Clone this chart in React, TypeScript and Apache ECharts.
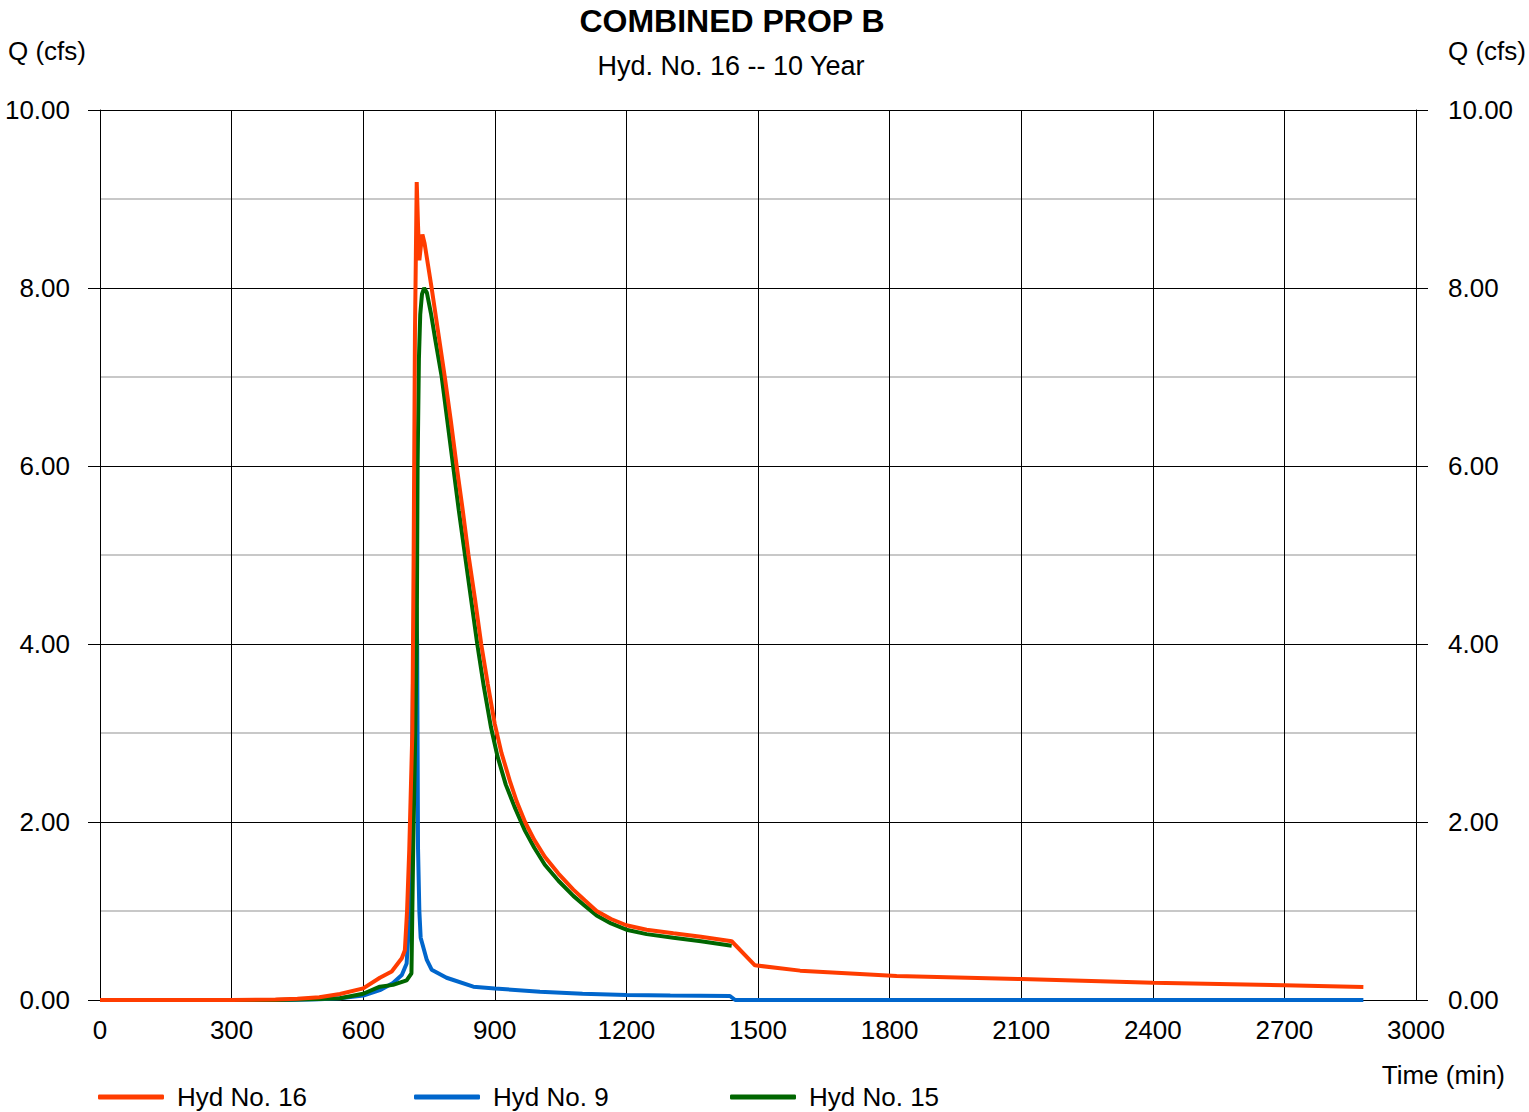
import React, { useEffect, useRef } from "react";
import * as echarts from "echarts";

const xTicks = [0, 300, 600, 900, 1200, 1500, 1800, 2100, 2400, 2700, 3000];

const hyd16Time = [0, 300, 400, 450, 500, 547, 600, 638, 665, 688, 695, 700, 705, 712, 715, 718, 722, 725, 728, 731, 735, 740, 748, 756, 771, 786, 800, 813, 827, 840, 855, 869, 884, 900, 915, 935, 950, 969, 990, 1014, 1045, 1079, 1105, 1132, 1165, 1200, 1246, 1307, 1370, 1440, 1493, 1596, 1816, 2100, 2400, 2700, 2880];
const hyd16Flow = [0, 0, 0.005, 0.015, 0.03, 0.067, 0.13, 0.25, 0.32, 0.47, 0.56, 1.0, 1.69, 3.0, 5.0, 7.5, 9.19, 8.7, 8.31, 8.45, 8.6, 8.5, 8.25, 8.0, 7.5, 7.0, 6.5, 6.0, 5.5, 5.0, 4.5, 4.0, 3.55, 3.1, 2.78, 2.45, 2.23, 2.0, 1.8, 1.61, 1.42, 1.24, 1.12, 1.0, 0.91, 0.84, 0.79, 0.75, 0.71, 0.66, 0.39, 0.33, 0.27, 0.235, 0.195, 0.165, 0.145];

const hyd9Time = [0, 400, 450, 500, 547, 600, 638, 668, 688, 699, 705, 710, 714, 718, 721, 723, 725, 728, 731, 745, 756, 790, 851, 900, 1003, 1100, 1200, 1300, 1436, 1448, 2880];
const hyd9Flow = [0, 0, 0.003, 0.008, 0.02, 0.05, 0.11, 0.19, 0.28, 0.41, 0.9, 2.0, 3.8, 4.5, 4.4, 4.0, 1.7, 1.0, 0.7, 0.45, 0.34, 0.25, 0.15, 0.13, 0.093, 0.07, 0.056, 0.05, 0.045, 0, 0];

const hyd15Time = [0, 400, 450, 500, 547, 600, 638, 668, 699, 710, 714, 718, 722, 724, 727, 730, 734, 739, 745, 755, 765, 779, 792, 805, 818, 832, 846, 860, 875, 891, 906, 925, 945, 969, 990, 1014, 1045, 1079, 1105, 1132, 1165, 1200, 1246, 1307, 1370, 1440];
const hyd15Flow = [0, 0, 0.005, 0.01, 0.02, 0.07, 0.15, 0.17, 0.22, 0.30, 1.7, 2.8, 4.0, 6.0, 7.2, 7.7, 7.93, 8.0, 7.95, 7.7, 7.4, 7.0, 6.5, 6.0, 5.5, 5.0, 4.5, 4.0, 3.52, 3.07, 2.74, 2.42, 2.17, 1.9, 1.71, 1.52, 1.34, 1.17, 1.06, 0.95, 0.86, 0.79, 0.74, 0.7, 0.66, 0.61];

const pairs = (t: number[], v: number[]) => t.map((x, i) => [x, v[i]]);

const FONT = "Arial, 'Liberation Sans', sans-serif";
const ORANGE = "#ff3c00";
const BLUE = "#0066cc";
const GREEN = "#006600";

export default function App() {
  const ref = useRef<HTMLDivElement>(null);
  useEffect(() => {
    if (!ref.current) return;
    const chart = echarts.init(ref.current, null, { renderer: "svg" });
    const yLabel = {
      fontSize: 26,
      color: "#000",
      fontFamily: FONT,
      formatter: (v: number) => v.toFixed(2),
    };
    const legendCommon = {
      top: 1084,
      padding: 0,
      icon: "roundRect",
      itemWidth: 66,
      itemHeight: 5,
      textStyle: { fontSize: 26, color: "#000", fontFamily: FONT, padding: [0, 0, 0, 8] },
      selectedMode: false,
    };
    chart.setOption({
      animation: false,
      backgroundColor: "#fff",
      grid: { left: 100, right: 113, top: 110, bottom: 112 },
      graphic: [
        { type: "text", x: 732, y: 21, style: { text: "COMBINED PROP B", fontSize: 32, fontWeight: "bold", fontFamily: FONT, fill: "#000", textAlign: "center", textVerticalAlign: "middle" } },
        { type: "text", x: 731, y: 66, style: { text: "Hyd. No. 16 -- 10 Year", fontSize: 27, fontFamily: FONT, fill: "#000", textAlign: "center", textVerticalAlign: "middle" } },
        { type: "text", x: 8, y: 51, style: { text: "Q (cfs)", fontSize: 26, fontFamily: FONT, fill: "#000", textAlign: "left", textVerticalAlign: "middle" } },
        { type: "text", x: 1526, y: 51, style: { text: "Q (cfs)", fontSize: 26, fontFamily: FONT, fill: "#000", textAlign: "right", textVerticalAlign: "middle" } },
        { type: "text", x: 1505, y: 1075, style: { text: "Time (min)", fontSize: 26, fontFamily: FONT, fill: "#000", textAlign: "right", textVerticalAlign: "middle" } },
      ],
      legend: [
        { ...legendCommon, left: 98, data: ["Hyd No. 16"] },
        { ...legendCommon, left: 414, data: ["Hyd No. 9"] },
        { ...legendCommon, left: 730, data: ["Hyd No. 15"] },
      ],
      xAxis: {
        type: "value",
        min: xTicks[0],
        max: xTicks[xTicks.length - 1],
        interval: 300,
        axisLine: { show: true, lineStyle: { color: "#000", width: 1 } },
        axisTick: { show: false },
        axisLabel: { fontSize: 26, color: "#000", fontFamily: FONT, margin: 17, formatter: (v: number) => String(v) },
        splitLine: { show: true, lineStyle: { color: "#000", width: 1 } },
      },
      yAxis: [
        {
          type: "value",
          position: "left",
          min: 0,
          max: 10,
          interval: 2,
          axisLine: { show: true, lineStyle: { color: "#000", width: 1 } },
          axisTick: { show: true, inside: false, length: 12, lineStyle: { color: "#000" } },
          axisLabel: { ...yLabel, margin: 30 },
          splitLine: { show: true, lineStyle: { color: "#000", width: 1 } },
          minorTick: { show: false, splitNumber: 2 },
          minorSplitLine: { show: true, lineStyle: { color: "#c8c8c8", width: 2 } },
        },
        {
          type: "value",
          position: "right",
          min: 0,
          max: 10,
          interval: 2,
          axisLine: { show: true, lineStyle: { color: "#000", width: 1 } },
          axisTick: { show: true, inside: false, length: 12, lineStyle: { color: "#000" } },
          axisLabel: { ...yLabel, margin: 32 },
          splitLine: { show: false },
        },
      ],
      series: [
        {
          name: "Hyd No. 9",
          type: "line",
          data: pairs(hyd9Time, hyd9Flow),
          showSymbol: false,
          symbol: "none",
          z: 2,
          lineStyle: { color: BLUE, width: 4 },
          itemStyle: { color: BLUE },
        },
        {
          name: "Hyd No. 15",
          type: "line",
          data: pairs(hyd15Time, hyd15Flow),
          showSymbol: false,
          symbol: "none",
          z: 3,
          lineStyle: { color: GREEN, width: 4 },
          itemStyle: { color: GREEN },
        },
        {
          name: "Hyd No. 16",
          type: "line",
          data: pairs(hyd16Time, hyd16Flow),
          showSymbol: false,
          symbol: "none",
          z: 4,
          lineStyle: { color: ORANGE, width: 4 },
          itemStyle: { color: ORANGE },
        },
      ],
    });
    return () => chart.dispose();
  }, []);
  return (
    <div
      ref={ref}
      style={{ position: "fixed", left: 0, top: 0, width: 1529, height: 1112, background: "#fff" }}
    />
  );
}
